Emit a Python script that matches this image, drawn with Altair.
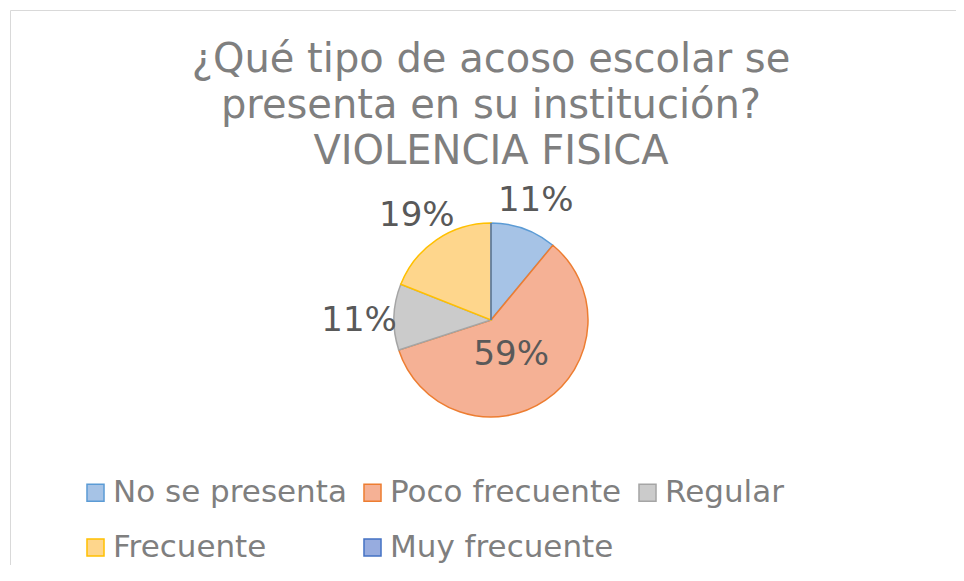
import altair as alt
import pandas as pd

categories = ["No se presenta", "Poco frecuente", "Regular", "Frecuente", "Muy frecuente"]
percentages = [11, 59, 11, 19, 0]
fill_colors = ["#a6c3e6", "#f5b195", "#cbcbcb", "#fed68c", "#97acdf"]
stroke_colors = ["#5b9bd5", "#ed7d31", "#a5a5a5", "#ffc000", "#4472c4"]
title_lines = ["¿Qué tipo de acoso escolar se", "presenta en su institución?", "VIOLENCIA FISICA"]

df = pd.DataFrame({"cat": categories, "pct": percentages, "ord": list(range(len(categories)))})

FONT = "DejaVu Sans"
CX, CY = 481, 310

pie = alt.Chart(df).mark_arc(outerRadius=97, strokeWidth=1.5).encode(
    theta=alt.Theta("pct:Q", stack=True, scale=alt.Scale(domain=[0, 100])),
    order=alt.Order("ord:Q"),
    x=alt.value(CX),
    y=alt.value(CY),
    color=alt.Color(
        "cat:N",
        scale=alt.Scale(domain=categories, range=fill_colors),
        sort=categories,
        legend=alt.Legend(
            title=None,
            orient="none",
            legendX=70,
            legendY=467,
            columns=3,
            direction="horizontal",
            symbolType="square",
            symbolSize=290,
            symbolStrokeWidth=1.5,
            labelFontSize=31,
            labelFont=FONT,
            labelColor="#7f7f7f",
            labelLimit=400,
            rowPadding=23,
            columnPadding=10,
            symbolOffset=0,
            labelOffset=2,
            gridAlign="each",
        ),
    ),
    stroke=alt.Stroke(
        "cat:N",
        scale=alt.Scale(domain=categories, range=stroke_colors),
        sort=categories,
        legend=None,
    ),
)

labels = (
    alt.Chart(df)
    .transform_window(cum="sum(pct)", sort=[alt.SortField("ord")], frame=[None, 0])
    .transform_filter("datum.pct > 0")
    .transform_calculate(
        mid="datum.cum - datum.pct / 2",
        label="datum.pct + '%'",
        lr="datum.pct > 30 ? 36 : 132",
    )
    .mark_text(fontSize=34, font=FONT, color="#595959", dy=5)
    .encode(
        theta=alt.Theta("mid:Q", stack=False, scale=alt.Scale(domain=[0, 100])),
        x=alt.value(CX),
        y=alt.value(CY),
        text="label:N",
        radius=alt.Radius("lr:Q", scale=None),
    )
)

chart = (
    alt.layer(pie, labels)
    .properties(
        width=946,
        height=555,
        padding={"left": 2, "top": 2, "right": 0, "bottom": 0},
        title=alt.TitleParams(
            text=title_lines,
            fontSize=40,
            font=FONT,
            fontWeight="normal",
            color="#7f7f7f",
            lineHeight=46,
            anchor="middle",
            frame="group",
            dx=8,
            offset=-162,
        ),
    )
    .configure_view(stroke="#d9d9d9", strokeWidth=1)
)

chart.save("out.html", embed_options={"renderer": "svg", "actions": False})
